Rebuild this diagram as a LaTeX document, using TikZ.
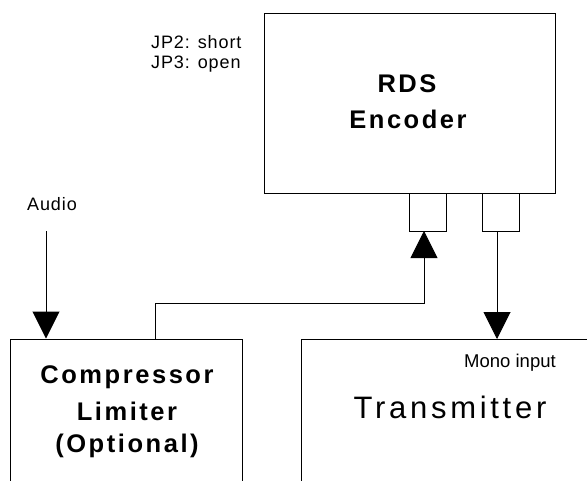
\documentclass[tikz,border=0pt]{standalone}
\usepackage{fontspec}
\setmainfont{Liberation Sans}
\newfontfamily\spacedA[LetterSpace=10]{Liberation Sans}
\newfontfamily\spacedB[LetterSpace=12]{Liberation Sans}
\newfontfamily\spacedC[LetterSpace=5]{Liberation Sans}
\usetikzlibrary{arrows.meta}
\begin{document}
\begin{tikzpicture}[x=1pt,y=-1pt,
  box/.style={draw=black,line width=1pt,rectangle,inner sep=0pt},
  conn/.style={draw=black,line width=1pt},
  arr/.style={conn,-{Triangle[width=27pt,length=27pt]}},
  small/.style={inner sep=0pt,font=\spacedC\fontsize{18}{20}\selectfont},
  big/.style={inner sep=0pt,font=\spacedA\bfseries\fontsize{25.5}{30}\selectfont},
  huge/.style={inner sep=0pt,font=\spacedB\fontsize{31}{36}\selectfont}]
\useasboundingbox (0,0) rectangle (587,480);
\clip (0,0) rectangle (587,480);
\fill[white] (0,0) rectangle (587,480);
% boxes
\node[box,minimum width=291pt,minimum height=180pt] (rds) at (409.5,103) {};
\node[box,minimum width=37pt,minimum height=38pt] (jin) at (427.5,212) {};
\node[box,minimum width=37pt,minimum height=38pt] (jout) at (500.5,212) {};
\node[box,minimum width=232pt,minimum height=160pt] (comp) at (126,419) {};
\node[box,minimum width=320pt,minimum height=160pt] (tx) at (461,419) {};
% texts
\node[small,anchor=base west] (jp2) at (151,48) {JP2: short};
\node[small,anchor=base west] (jp3) at (151,68) {JP3: open};
\node[small,anchor=base west] (audio) at (27,210) {Audio};
\node[big,anchor=base] (t1) at (407,92) {RDS};
\node[big,anchor=base] (t2) at (408,128) {Encoder};
\node[big,anchor=base] (c1) at (127,383) {Compressor};
\node[big,anchor=base] (c2) at (127,420) {Limiter};
\node[big,anchor=base] (c3) at (127,452) {(Optional)};
\node[inner sep=0pt,font=\fontsize{18.5}{20}\selectfont,anchor=base] (mono) at (510,367) {Mono input};
\node[huge,anchor=base] (txt) at (450,418) {Transmitter};
% connectors
\coordinate (audtop) at (46,231);
\draw[arr] (audtop) -- (audtop |- comp.north);
\coordinate (cup) at (155,339);
\draw[arr] (cup) -- (155,303) -- (424,303) -- (424,231);
\draw[arr] (497,231) -- (497,339);
\end{tikzpicture}
\end{document}
